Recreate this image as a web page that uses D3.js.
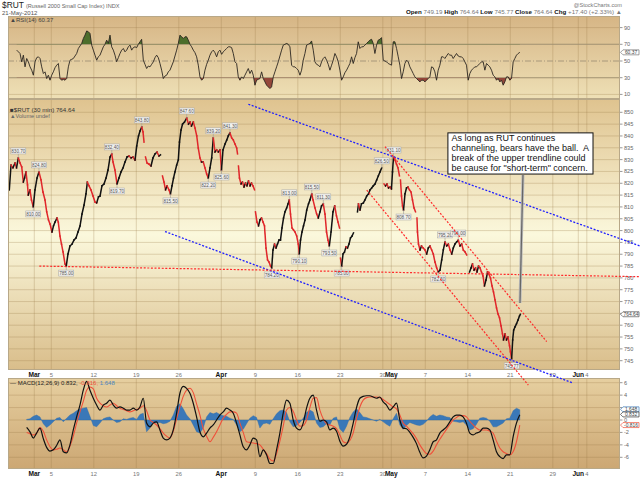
<!DOCTYPE html>
<html>
<head>
<meta charset="utf-8">
<script src="https://cdn.jsdelivr.net/npm/d3@7"></script>
<style>
body { margin: 0; background: #fff; }
svg { display: block; font-family: 'Liberation Sans', Arial, sans-serif; }
</style>
</head>
<body>
<div id="chart"></div>
<script>
// date ticks, in trading days counted from Mar 1 2012
const dayTicks = [0, 2, 7, 12, 17, 22, 26, 31, 36, 41, 42, 46, 51, 56, 61, 64, 65];
const dayLabels = ['Mar', '5', '12', '19', '26', 'Apr', '9', '16', '23', '30', 'May', '7', '14', '21', '29', 'Jun', '4'];
const monthLabels = ['Mar', 'Apr', 'May', 'Jun'];

const priceTicks = d3.range(745, 851, 5);
const rsiTicks = [10, 30, 50, 70, 90];
const macdTicks = [-6, -4, -2, 0, 2, 4, 6];

// $RUT 30 min, [trading day, price]; null = session gap
const rutPts = [
[-2.94,817.2],[-2.74,827.7],[-2.51,826.5],[-2.27,828.6],[-2.09,826.5],[-1.88,830.7],[-1.68,828.6],[-1.48,826.9],[-1.29,820.5],[-1.15,822.2],
[-0.98,824.8],[-0.80,819.3],[-0.71,815.0],[-0.51,817.2],[-0.33,812.9],[-0.12,810.0],[0.08,817.2],[0.32,822.2],[0.55,824.8],[0.79,821.4],
[1.02,816.3],[1.26,812.9],[1.46,807.9],[1.67,804.5],[1.85,802.8],[2.08,799.4],[2.26,802.0],[2.44,803.6],[2.67,805.3],[2.82,803.6],
[3.02,797.7],[3.20,794.3],[3.38,791.0],[3.61,785.9],[3.76,785.0],[3.96,790.1],[4.20,793.5],[4.44,794.3],[4.67,796.0],[4.91,796.9],
[5.14,799.4],[5.38,802.0],[5.61,807.0],[5.85,810.8],[6.08,815.5],[6.24,820.5],[6.44,818.9],[6.67,817.2],[6.91,814.6],[7.14,812.1],
[7.34,811.7],[7.55,814.2],[7.73,814.6],[7.96,818.9],[8.20,819.7],[8.44,822.2],[8.67,825.6],[8.91,831.1],[9.11,832.4],[9.26,829.0],
[9.49,825.6],[9.73,819.7],[9.96,822.2],[10.20,824.8],[10.44,826.5],[10.67,829.0],[10.91,831.1],[11.14,831.5],[11.38,830.7],[11.61,831.1],
[11.85,829.8],[12.05,835.8],[12.26,840.0],[12.44,842.1],[12.64,843.8],[12.79,841.7],[12.91,837.4],null,
[13.08,831.1],[13.26,828.6],[13.49,828.1],[13.73,827.3],[13.96,830.7],[14.20,832.4],[14.44,833.2],[14.67,831.5],[14.85,832.0],null,
[15.08,823.1],[15.26,820.5],[15.44,817.2],[15.61,818.9],[15.85,817.2],[16.02,815.5],[16.20,818.9],[16.38,822.2],[16.55,824.8],[16.75,827.7],
[16.94,829.8],[17.08,837.4],[17.26,842.5],[17.44,845.0],[17.67,845.9],[17.93,847.6],[18.14,845.0],[18.32,845.9],[18.49,844.2],[18.71,845.9],
[18.91,843.3],[19.11,840.0],[19.29,834.9],[19.49,830.7],[19.67,829.0],[19.88,829.0],[20.08,826.5],[20.28,823.9],[20.47,822.2],[20.67,826.5],
[20.87,830.7],[21.06,839.2],[21.26,833.2],[21.46,834.1],[21.65,833.2],[21.85,834.1],[22.02,825.6],[22.20,834.1],[22.44,836.6],[22.64,838.3],
[22.82,840.0],[23.02,841.3],[23.22,839.2],[23.41,838.3],[23.61,836.6],[23.81,834.9],[23.91,832.4],null,
[24.02,827.3],[24.14,822.2],[24.32,819.7],[24.49,820.5],[24.67,818.4],[24.85,820.1],[25.02,818.9],[25.20,821.0],[25.38,818.9],[25.55,820.1],
[25.73,818.9],[25.91,817.2],null,
[26.02,807.9],[26.20,803.6],[26.38,802.0],[26.55,804.5],[26.73,805.3],[26.91,803.6],[27.08,802.0],[27.26,792.6],[27.44,787.6],[27.61,786.7],
[27.79,785.0],[27.93,784.2],[28.08,791.8],[28.26,794.3],[28.44,792.6],[28.61,794.3],[28.79,796.0],[28.96,796.0],[29.14,801.1],[29.32,805.3],
[29.49,807.9],[29.69,809.6],[29.85,811.3],[30.00,813.0],[30.14,807.0],[30.32,801.1],[30.49,800.3],[30.67,799.4],[30.87,797.7],[31.06,794.3],
[31.18,790.1],[31.32,796.0],[31.49,799.4],[31.67,802.0],[31.85,804.5],[32.05,808.7],[32.26,811.3],[32.44,813.0],[32.64,815.5],[32.79,813.0],
[33.02,809.6],[33.22,807.0],[33.41,805.3],[33.61,807.9],[33.79,810.4],[34.00,811.3],[34.20,807.0],[34.38,799.4],[34.55,796.0],[34.71,793.5],
[34.91,799.4],[35.14,807.9],[35.34,810.4],[35.55,806.2],[35.73,803.6],[35.91,801.1],null,
[36.02,788.4],[36.16,785.0],[36.32,790.1],[36.49,790.9],[36.67,793.1],[36.85,792.6],[37.02,794.3],[37.20,796.9],[37.38,797.7],[37.55,799.0],null,
[38.02,807.9],[38.14,811.3],[38.32,808.7],[38.49,811.3],[38.71,811.7],[38.91,813.0],[39.11,814.6],[39.32,815.5],[39.49,817.2],[39.69,818.0],
[39.88,818.9],[40.08,819.7],[40.28,821.4],[40.47,823.1],[40.67,824.8],[40.87,826.5],null,
[41.14,819.7],[41.32,818.9],[41.49,819.7],[41.67,818.0],[41.85,818.4],[42.02,817.6],[42.14,824.8],[42.26,831.1],[42.44,829.8],[42.61,828.1],
[42.79,826.5],[42.96,823.1],null,
[43.08,821.4],[43.20,814.6],[43.32,810.4],[43.44,808.7],[43.61,815.5],[43.79,818.0],[43.96,818.4],[44.14,817.2],[44.32,816.3],[44.49,813.0],
[44.67,809.6],[44.85,807.9],null,
[45.02,805.3],[45.08,799.4],[45.20,794.3],[45.38,791.8],[45.55,793.5],[45.76,792.6],[45.96,791.8],[46.16,790.1],[46.35,792.6],[46.55,793.5],
[46.75,791.8],[46.94,790.1],[47.14,786.7],[47.34,784.2],[47.53,782.5],[47.73,783.3],[47.93,787.6],[48.12,791.8],[48.32,795.2],[48.52,793.5],
[48.71,794.3],[48.91,791.8],[49.11,790.1],[49.29,792.6],[49.49,794.3],[49.69,795.2],[49.88,796.0],[50.08,793.5],[50.28,794.3],[50.47,791.8],
[50.67,791.0],[50.87,789.7],null,
[51.20,782.5],[51.38,784.2],[51.55,785.9],[51.73,783.3],[51.91,784.2],[52.08,782.5],[52.26,785.0],[52.44,784.2],[52.61,782.5],[52.79,780.8],
[52.96,776.6],[53.14,779.1],[53.32,782.5],[53.49,781.6],[53.67,779.9],[53.85,776.6],[54.02,774.1],[54.20,770.7],[54.38,767.3],[54.55,764.8],
[54.73,763.1],[54.91,759.7],[55.08,756.3],[55.20,753.8],[55.38,756.3],[55.55,753.8],[55.73,755.0],[55.91,751.3],[56.02,748.7],[56.16,745.8],
[56.28,753.8],[56.40,758.0],[56.55,759.3],[56.73,760.6],[56.91,762.2],[57.08,763.9],[57.18,764.64]
];

// high / low tags on the price panel: [day, price, side]
const priceTags = [
[-1.88,830.7,'h'],[0.55,824.8,'h'],[-0.12,810.0,'l'],[3.76,785.0,'l'],[9.11,832.4,'h'],[9.73,819.7,'l'],[12.64,843.8,'h'],
[16.02,815.5,'l'],[17.93,847.6,'h'],[20.47,822.2,'l'],[21.06,839.2,'h'],[22.02,825.6,'l'],[23.02,841.3,'h'],[27.93,784.2,'l'],
[30.00,813.0,'h'],[31.18,790.1,'l'],[32.64,815.5,'h'],[34.00,811.3,'h'],[34.71,793.5,'l'],[36.16,785.0,'l'],[40.87,826.5,'h'],
[42.26,831.1,'h'],[43.44,808.7,'l'],[47.53,782.5,'l'],[48.32,795.2,'h'],[49.88,796.0,'h'],[56.16,745.77,'l']
];

// RSI(14), regular samples
const rsiStart = -2.07;
const rsiStep = 0.196;
const rsiVals = [
63,61,59,49,57,43,53,49,43,39,33,49,54,55,53,43,35,37,29,33,27,33,37,42,45,47,29,27,28,27,
29,43,51,52,53,56,59,65,68,71,77,81,86,85,83,69,63,57,51,55,57,62,67,70,75,71,81,67,63,57,
49,54,59,63,65,61,63,67,69,63,66,67,66,70,73,76,51,46,41,44,43,46,49,54,57,54,47,39,29,32,
33,37,39,44,49,56,63,71,81,79,77,79,79,75,70,67,63,60,55,45,31,27,29,39,46,51,57,61,63,60,
55,61,63,58,61,63,65,67,67,66,59,49,47,31,27,31,29,33,37,41,35,39,33,21,27,28,29,37,29,25,
21,19,17,19,31,37,43,49,56,63,69,70,71,70,67,45,43,43,41,39,33,39,51,59,69,70,71,74,63,49,
46,45,43,49,53,55,51,46,39,45,51,59,55,49,39,27,31,36,39,43,47,55,47,54,59,73,65,67,67,69,
71,73,75,76,71,59,69,75,76,78,51,50,49,47,46,45,73,73,65,55,45,29,37,47,51,49,43,39,35,31,
29,27,25,27,27,25,27,29,31,43,42,37,27,39,45,55,55,53,56,59,57,57,53,56,59,56,55,55,53,49,
45,27,35,39,41,43,43,45,47,49,49,39,47,45,43,39,33,31,27,29,25,27,21,25,31,31,27,29,49,53,
57,59,60.37
];

// MACD(12,26,9), regular samples
const macdStart = -0.90;
const macdStep = 0.392;
const macdVals = [
-1.2,-1.9,-2.9,-2.1,-1.3,-3.0,-4.4,-5.0,-4.8,-4.1,
-3.2,-5.1,-5.3,-4.0,-1.6,0.5,2.4,4.8,6.2,4.8,
3.5,2.4,1.6,2.4,2.7,3.2,2.4,1.9,2.1,1.9,
1.6,1.6,1.9,1.6,2.1,3.5,-0.5,-1.1,-0.5,-0.3,
-1.6,-2.9,-3.2,-2.9,-1.6,1.1,4.3,5.4,5.1,4.3,
2.7,0.5,-1.9,-2.7,-2.1,-1.3,-0.8,0,0.8,1.3,
1.9,1.6,1.1,-0.5,-2.4,-4.3,-4.8,-4.0,-2.9,-3.2,
-5.9,-4.8,-5.6,-7.0,-7.0,-4.8,-2.1,1.1,3.2,2.7,
0,-1.3,-1.6,-0.5,1.9,3.5,4.0,1.6,-0.2,0,
-0.3,-1.6,-1.3,-1.8,-3.4,-4.2,-3.9,-2.7,-0.5,2.0,
3.5,3.8,3.9,3.9,3.7,3.5,3.7,2.9,2.4,1.6,
2.1,2.7,0,-1.3,-1.4,-2.0,-2.8,-3.8,-5.2,-6.1,
-5.8,-4.8,-3.5,-3.2,-2.1,-1.6,-1.1,-0.3,0.5,0.8,
0.8,0.5,-0.5,-2.1,-2.4,-2.1,-1.9,-1.3,-1.3,-1.6,
-3.2,-5.1,-5.9,-6.2,-5.6,-5.6,-2.7,-0.5,0.832
];
const signalVals = [
-2.0,-2.2,-2.4,-2.1,-1.2,-1.8,-3.2,-4.3,-4.8,-4.7,
-4.5,-4.8,-5.1,-4.2,-2.6,-0.5,1.3,3.0,4.8,5.3,
5.0,3.5,2.7,2.3,2.1,2.4,2.7,2.3,1.9,1.7,
1.5,1.3,1.5,1.7,1.9,2.3,1.5,0,-0.4,-0.8,
-1.4,-2.1,-2.6,-2.9,-1.8,0.2,2.1,3.8,4.8,5.1,
4.4,2.6,0.8,-1.4,-2.6,-3.5,-2.8,-1.9,-0.8,0.3,
0.9,1.3,1.3,1.1,-0.5,-2.0,-3.5,-3.6,-3.7,-3.8,
-4.0,-4.7,-5.4,-6.3,-6.6,-5.4,-3.4,-1.0,1.6,2.0,
1.4,0,-1.0,-0.9,0,2.0,3.5,3.6,1.6,0.2,
-0.6,-0.8,-1.0,-1.4,-2.4,-3.5,-3.7,-3.3,-2.1,0.2,
2.1,3.2,3.6,3.7,3.7,3.7,3.6,3.3,2.9,2.5,
2.1,1.8,0.8,-0.5,-1.0,-1.6,-2.2,-3.0,-4.0,-4.8,
-5.4,-5.5,-5.0,-4.0,-3.1,-2.3,-1.5,-0.7,0,0.4,
0.7,0.7,0.5,-0.2,-0.8,-1.3,-1.6,-1.6,-1.6,-1.8,
-2.1,-3.4,-4.5,-5.1,-5.4,-5.6,-5.1,-3.5,-0.816
];
const histVals = [
0.1,0.2,0.6,0.8,0.5,-0.6,-1.2,-0.8,-0.3,0.3,
0.4,-0.3,0.3,0.8,1.1,1.5,1.8,1.9,2.0,0.6,
-0.9,-1.1,-0.5,0.2,0.4,0.5,0,-0.4,-0.3,0.2,
0.1,0.3,0.4,0.1,0.9,1.1,-1.9,-1.3,-0.4,-0.5,
-0.4,-0.6,-0.5,-0.2,0.8,2.2,2.6,1.8,0.8,0.2,
-0.8,-1.9,-2.1,-1.3,0.5,1.2,1.0,1.2,0.9,0.7,
0.6,0.3,0.1,-0.8,-1.9,-1.5,-0.6,0.3,0.7,0.4,
-1.3,-0.6,-0.5,-0.7,0.2,1.0,1.5,1.6,1.2,-0.3,
-1.1,-0.9,-0.4,0.3,1.2,1.6,1.3,-0.5,-1.2,-1.1,
-0.6,-0.8,0.3,0.5,-1.4,-2.0,-1.0,0.4,1.3,1.8,
1.2,0.5,0.4,0.2,0,-0.2,0.1,-0.3,-0.7,-1.0,
0.2,1.1,-0.8,-1.5,-0.9,-0.4,-0.6,-0.8,-0.9,-0.7,
-0.2,0.5,0.9,0.6,0.8,0.7,0.5,0.4,-0.2,-0.3,
-0.4,-0.3,-0.8,-1.6,-1.4,-0.7,0.3,0.4,0.3,-0.2,
-1.1,-1.1,-0.8,-0.5,0.2,0.3,1.5,1.9,1.648
];

// last values shown in boxes on the right axes
const lastRsi = 60.37;
const lastClose = 764.64;
const lastMacd = [1.648, 0.832, -0.816]; // histogram, macd, signal

// hand drawn trendlines, [day, price] end points
const blueLines = [
  [[25.18, 853.4], [71.26, 793.5]],
  [[15.38, 799.6], [63.41, 735.5]]
];
const redLines = [
  [[0.59, 785.0], [71.26, 780.5]],
  [[41.26, 835.5], [60.28, 753.1]],
  [[39.11, 817.1], [58.12, 734.7]]
];

const noteLines = [
  'As long as RUT continues',
  'channeling, bears have the ball.  A',
  'break of the upper trendline could',
  'be cause for "short-term" concern.'
];
const noteBox = [[48.66, 841.3], [65.73, 823.9]];
const notePointer = [[57.49, 823.5], [57.14, 769.4]];

// ---- layout ----
const W = 640, H = 479;
const L = 8, R = 620;
const rsiTop = 16, rsiBot = 99;
const mainTop = 99, mainBot = 370;
const macdTop = 378, macdBot = 469;

const x = d3.scaleLinear().domain([0, 65]).range([34.3, 586.8]);
const yP = d3.scaleLinear().domain([745, 850]).range([360.7, 112.3]);
const yR = d3.scaleLinear().domain([10, 90]).range([94.4, 27.6]);
const yM = d3.scaleLinear().domain([-6, 6]).range([457.3, 382.7]);

const svg = d3.select('#chart')
    .append('svg')
    .attr('width', W)
    .attr('height', H);

const defs = svg.append('defs');

function grad(id, stops) {
    const g = defs.append('linearGradient')
        .attr('id', id)
        .attr('x1', 0).attr('y1', 0).attr('x2', 0).attr('y2', 1);
    stops.forEach((s) => g.append('stop').attr('offset', s[0]).attr('stop-color', s[1]));
}
grad('gRsi', [[0, '#d6b585'], [1, '#eee0b6']]);
grad('gMain', [[0, '#dfc38f'], [0.5, '#fbf8dc'], [1, '#d9bd8a']]);
grad('gMacd', [[0, '#e6cfa0'], [1, '#cca773']]);

function clip(id, y0, y1) {
    defs.append('clipPath').attr('id', id)
        .append('rect').attr('x', L).attr('y', y0).attr('width', R - L).attr('height', y1 - y0);
}
clip('cRsi', rsiTop, rsiBot);
clip('cMain', mainTop, mainBot);
clip('cMacd', macdTop, macdBot);
clip('cAbove70', rsiTop, yR(70));
clip('cBelow30', yR(30), rsiBot);

// panel backgrounds
[['gRsi', rsiTop, rsiBot], ['gMain', mainTop, mainBot], ['gMacd', macdTop, macdBot]].forEach((p) => {
    svg.append('rect')
        .attr('x', L).attr('y', p[1])
        .attr('width', R - L).attr('height', p[2] - p[1])
        .attr('fill', `url(#${p[0]})`);
});

const gridCol = 'rgba(150,120,70,0.28)';

// vertical grid
[[rsiTop, rsiBot], [mainTop, mainBot], [macdTop, macdBot]].forEach((p) => {
    svg.append('g').selectAll('line')
        .data(dayTicks)
        .enter()
        .append('line')
        .attr('x1', (d) => x(d)).attr('x2', (d) => x(d))
        .attr('y1', p[0]).attr('y2', p[1])
        .attr('stroke', gridCol).attr('stroke-width', 1);
});

// horizontal grid
svg.append('g').selectAll('line')
    .data(priceTicks)
    .enter()
    .append('line')
    .attr('x1', L).attr('x2', R)
    .attr('y1', (d) => yP(d)).attr('y2', (d) => yP(d))
    .attr('stroke', gridCol);

svg.append('g').selectAll('line')
    .data(macdTicks)
    .enter()
    .append('line')
    .attr('x1', L).attr('x2', R)
    .attr('y1', (d) => yM(d)).attr('y2', (d) => yM(d))
    .attr('stroke', gridCol);

svg.append('g').selectAll('line')
    .data(rsiTicks)
    .enter()
    .append('line')
    .attr('x1', L).attr('x2', R)
    .attr('y1', (d) => yR(d)).attr('y2', (d) => yR(d))
    .attr('stroke-width', (d) => (d === 70 || d === 30) ? 1.1 : 1)
    .attr('stroke-dasharray', (d) => d === 50 ? '6,2,1,2' : null)
    .attr('stroke', (d) => d === 50 ? '#a8987a' : ((d === 70 || d === 30) ? '#a09070' : gridCol));

// ---- RSI ----
const rsiData = rsiVals.map((v, i) => ({ d: rsiStart + i * rsiStep, v: v }));
const rsiG = svg.append('g').attr('clip-path', 'url(#cRsi)');

rsiG.append('path')
    .datum(rsiData)
    .attr('clip-path', 'url(#cAbove70)')
    .attr('fill', '#4d6e2c')
    .attr('d', d3.area().x((d) => x(d.d)).y0(yR(70)).y1((d) => yR(d.v)));

rsiG.append('path')
    .datum(rsiData)
    .attr('clip-path', 'url(#cBelow30)')
    .attr('fill', '#94473a')
    .attr('d', d3.area().x((d) => x(d.d)).y0(yR(30)).y1((d) => yR(d.v)));

rsiG.append('path')
    .datum(rsiData)
    .attr('fill', 'none')
    .attr('stroke', '#2b2620')
    .attr('stroke-width', 0.9)
    .attr('d', d3.line().x((d) => x(d.d)).y((d) => yR(d.v)));

// ---- price ----
const priceG = svg.append('g').attr('clip-path', 'url(#cMain)');
const segs = [];
for (let i = 1; i < rutPts.length; i++) {
    if (rutPts[i - 1] && rutPts[i]) segs.push([rutPts[i - 1], rutPts[i]]);
}
priceG.selectAll('line')
    .data(segs)
    .enter()
    .append('line')
    .attr('x1', (d) => x(d[0][0])).attr('y1', (d) => yP(d[0][1]))
    .attr('x2', (d) => x(d[1][0])).attr('y2', (d) => yP(d[1][1]))
    .attr('stroke', (d) => d[1][1] >= d[0][1] ? '#111' : '#e0262a')
    .attr('stroke-width', 1.5)
    .attr('stroke-linecap', 'square');

// high / low tags
const tagG = svg.append('g');
priceTags.forEach((t) => {
    const px = x(t[0]);
    const py = yP(t[1]);
    const cy = t[2] === 'h' ? py - 7 : py + 7;
    tagG.append('line')
        .attr('x1', px).attr('x2', px)
        .attr('y1', py).attr('y2', cy)
        .attr('stroke', '#9a9a9a').attr('stroke-width', 0.6);
    tagG.append('rect')
        .attr('x', px - 7.5).attr('y', cy - 3)
        .attr('width', 15).attr('height', 6)
        .attr('fill', '#f2f1ee').attr('stroke', '#a5a5a5').attr('stroke-width', 0.5);
    tagG.append('text')
        .attr('x', px).attr('y', cy + 1.7)
        .attr('text-anchor', 'middle')
        .style('font-size', '4.6px')
        .attr('fill', '#555')
        .text(t[1].toFixed(2));
});

// ---- MACD ----
const macdG = svg.append('g').attr('clip-path', 'url(#cMacd)');
const md = (arr) => arr.map((v, i) => ({ d: macdStart + i * macdStep, v: v }));

macdG.append('path')
    .datum(md(histVals))
    .attr('fill', '#3a78b8')
    .attr('stroke', '#2c6aa8')
    .attr('stroke-width', 0.4)
    .attr('d', d3.area().x((d) => x(d.d)).y0(yM(0)).y1((d) => yM(d.v)));

macdG.append('path')
    .datum(md(signalVals))
    .attr('fill', 'none')
    .attr('stroke', '#f0503a')
    .attr('stroke-width', 1.1)
    .attr('d', d3.line().curve(d3.curveMonotoneX).x((d) => x(d.d)).y((d) => yM(d.v)));

macdG.append('path')
    .datum(md(macdVals))
    .attr('fill', 'none')
    .attr('stroke', '#111')
    .attr('stroke-width', 1.2)
    .attr('d', d3.line().curve(d3.curveMonotoneX).x((d) => x(d.d)).y((d) => yM(d.v)));

// panel borders
[[rsiTop, rsiBot], [mainTop, mainBot], [macdTop, macdBot]].forEach((p) => {
    svg.append('rect')
        .attr('x', L + 0.5).attr('y', p[0] + 0.5)
        .attr('width', R - L - 1).attr('height', p[1] - p[0] - 1)
        .attr('fill', 'none').attr('stroke', '#b8a888').attr('stroke-width', 1);
});

// ---- right axes ----
// value boxes sit on top of the axis, so tick labels under them are not drawn
function rightAxis(ticks, scale, boxes) {
    const shown = ticks.filter((t) => boxes.every((b) => Math.abs(scale(t) - scale(b)) > 4.2));
    const g = svg.append('g');
    g.selectAll('text')
        .data(shown)
        .enter()
        .append('text')
        .attr('x', R + 4)
        .attr('y', (d) => scale(d) + 2)
        .style('font-size', '5.6px')
        .attr('fill', '#666')
        .text((d) => d);
    g.selectAll('line')
        .data(ticks)
        .enter()
        .append('line')
        .attr('x1', R).attr('x2', R + 2.5)
        .attr('y1', (d) => scale(d)).attr('y2', (d) => scale(d))
        .attr('stroke', '#999');
}
rightAxis(priceTicks, yP, [lastClose]);
rightAxis(rsiTicks, yR, [lastRsi]);
rightAxis(macdTicks, yM, lastMacd.slice(0, 1));

function valueBox(y, label, col) {
    const h = 2.5;
    svg.append('path')
        .attr('d', `M${R + 0.5},${y} L${R + 3},${y - h} L${R + 19},${y - h} L${R + 19},${y + h} L${R + 3},${y + h} Z`)
        .attr('fill', '#fff').attr('stroke', col).attr('stroke-width', 0.7);
    svg.append('text')
        .attr('x', R + 11).attr('y', y + 1.8)
        .attr('text-anchor', 'middle')
        .style('font-size', '4.9px')
        .attr('fill', '#444')
        .text(label);
}
valueBox(yR(lastRsi), lastRsi.toFixed(2), '#777');
valueBox(yP(lastClose), lastClose.toFixed(2), '#555');
valueBox(yM(lastMacd[0]) - 0.4, lastMacd[0].toFixed(3), '#3a78b8');
valueBox(yM(lastMacd[1]) - 0.4, lastMacd[1].toFixed(3), '#333');
valueBox(yM(lastMacd[2]), lastMacd[2].toFixed(3), '#f0503a');

// ---- date labels ----
[mainBot + 6.5, macdBot + 7].forEach((yy) => {
    svg.append('g').selectAll('text')
        .data(dayTicks)
        .enter()
        .append('text')
        .attr('x', (d) => x(d))
        .attr('y', yy)
        .attr('text-anchor', 'middle')
        .style('font-size', (d, i) => monthLabels.includes(dayLabels[i]) ? '6.6px' : '5.8px')
        .style('font-weight', (d, i) => monthLabels.includes(dayLabels[i]) ? 'bold' : 'normal')
        .attr('fill', (d, i) => monthLabels.includes(dayLabels[i]) ? '#111' : '#777')
        .text((d, i) => dayLabels[i]);
});

// ---- header & panel titles ----
const head = svg.append('text').attr('x', 2).attr('y', 7.8);
head.append('tspan').style('font-size', '8.4px').attr('fill', '#222').text('$RUT');
head.append('tspan').style('font-size', '5.6px').attr('fill', '#666').attr('dx', 2).text('(Russell 2000 Small Cap Index) INDX');

svg.append('text').attr('x', 2).attr('y', 15)
    .style('font-size', '6px').attr('fill', '#555').text('21-May-2012');

svg.append('text').attr('x', R + 2).attr('y', 6.5).attr('text-anchor', 'end')
    .style('font-size', '5.6px').attr('fill', '#777').text('@StockCharts.com');

const ohlc = svg.append('text').attr('x', R + 2).attr('y', 14).attr('text-anchor', 'end').style('font-size', '6.2px');
[['Open', ' 749.19 '], ['High', ' 764.64 '], ['Low', ' 745.77 '], ['Close', ' 764.64 '], ['Chg', ' +17.40 (+2.33%) \u25B2']].forEach((p) => {
    ohlc.append('tspan').style('font-weight', 'bold').attr('fill', '#111').text(p[0]);
    ohlc.append('tspan').attr('fill', '#777').attr('xml:space', 'preserve').text(p[1]);
});

svg.append('text').attr('x', 10).attr('y', 21.5)
    .style('font-size', '6px').attr('fill', '#444')
    .text('\u25B2RSI(14) 60.37');

svg.append('text').attr('x', 10).attr('y', 111.5)
    .style('font-size', '6.2px').attr('fill', '#333')
    .text('\u25A0$RUT (30 min) 764.64');
svg.append('text').attr('x', 10).attr('y', 118)
    .style('font-size', '5.6px').attr('fill', '#666')
    .text('\u25B2Volume undef');

const mt = svg.append('text').attr('x', 10).attr('y', 384.5).style('font-size', '6px');
mt.append('tspan').attr('fill', '#222').text('\u2014 MACD(12,26,9) 0.832, ');
mt.append('tspan').attr('fill', '#f0503a').text('-0.816, ');
mt.append('tspan').attr('fill', '#4a86c0').text('1.648');

// ---- trendlines ----
const tl = d3.line().x((d) => x(d[0])).y((d) => yP(d[1]));
svg.append('g').selectAll('path')
    .data(blueLines)
    .enter()
    .append('path')
    .attr('d', tl)
    .attr('fill', 'none')
    .attr('stroke', '#1f1fff')
    .attr('stroke-width', 1.3)
    .attr('stroke-dasharray', '2,1.6');

svg.append('g').selectAll('path')
    .data(redLines)
    .enter()
    .append('path')
    .attr('d', tl)
    .attr('fill', 'none')
    .attr('stroke', '#ff2a2a')
    .attr('stroke-width', 1.2)
    .attr('stroke-dasharray', '2,1.6');

// ---- note ----
svg.append('path')
    .datum(notePointer)
    .attr('d', tl)
    .attr('stroke', '#bbb')
    .attr('stroke-width', 3);
svg.append('path')
    .datum(notePointer)
    .attr('d', tl)
    .attr('stroke', '#666')
    .attr('stroke-width', 1.2);

svg.append('rect')
    .attr('x', x(noteBox[0][0])).attr('y', yP(noteBox[0][1]))
    .attr('width', x(noteBox[1][0]) - x(noteBox[0][0]))
    .attr('height', yP(noteBox[1][1]) - yP(noteBox[0][1]))
    .attr('fill', '#fff')
    .attr('stroke', '#111')
    .attr('stroke-width', 1);

svg.append('g').selectAll('text')
    .data(noteLines)
    .enter()
    .append('text')
    .attr('x', x(noteBox[0][0]) + 3.5)
    .attr('y', (d, i) => yP(noteBox[0][1]) + 8.6 + i * 9.7)
    .attr('xml:space', 'preserve')
    .style('white-space', 'pre')
    .style('font-size', '9px')
    .attr('fill', '#111')
    .text((d) => d);
</script>
</body>
</html>
